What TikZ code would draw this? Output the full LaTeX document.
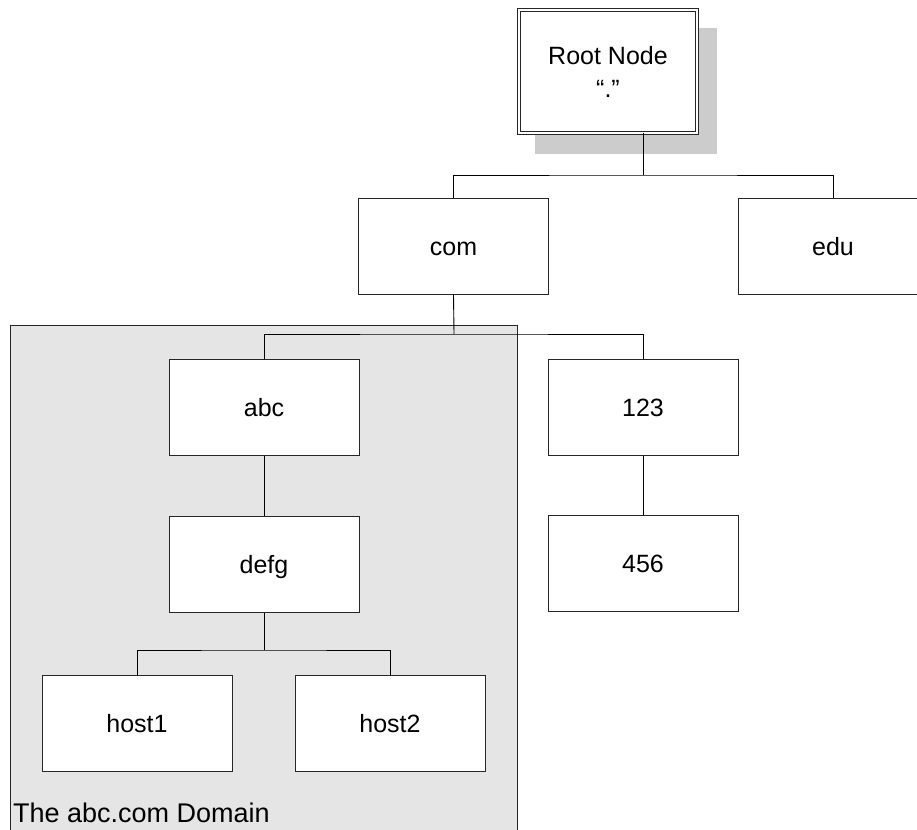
\documentclass[tikz,border=0pt]{standalone}
\usepackage{fontspec}
\setmainfont{Liberation Sans}
\begin{document}
\begin{tikzpicture}[x=1pt,y=-1pt,
  box/.style={draw=black!85, line width=0.9pt, fill=white, minimum width=190pt,
    minimum height=96pt, inner sep=0pt, text height=18pt, text depth=0pt,
    font=\fontsize{25}{33}\selectfont},
  link/.style={draw=black, line width=0.9pt}]
\useasboundingbox (0,0) rectangle (917,829);
\clip (0,0) rectangle (917,829);
% shaded zone of the abc.com domain
\path[fill=black!10, draw=black!85, line width=0.9pt] (10,325) rectangle (517,870);
\node[anchor=base west, font=\fontsize{27}{32}\selectfont, inner sep=0pt] (domlabel) at (13,822) {The abc.com Domain};
% drop shadow behind the root
\fill[black!20] (535,28) rectangle (717,154);
\node[box, text height=, text depth=, double, double distance=2.6pt, minimum width=178pt,
  minimum height=123pt, align=center] (root) at (608,71.5) {Root Node\\“.”};
% second level
\node[box] (com) at (453.5,246) {com};
\node[box] (edu) at (833,246) {edu};
% third level
\node[box] (abc) at (264,407.5) {abc};
\node[box] (n123) at (643,407.5) {123};
% fourth level
\node[box] (defg) at (264,564.5) {defg};
\node[box] (n456) at (643,563) {456};
% hosts
\node[box] (host1) at (137,723.5) {host1};
\node[box] (host2) at (390,723.5) {host2};
% tree connectors
\coordinate (j1) at (643,175);
\coordinate (j2) at (454,334);
\coordinate (j3) at (264,650);
\draw[link] (j1 |- root.south) -- (j1);
\draw[link] (com.north) |- (j1) -| (edu.north);
\draw[link] (com.south) -- (j2);
\draw[link] (abc.north) |- (j2) -| (n123.north);
\draw[link] (abc.south) -- (defg.north);
\draw[link] (n123.south) -- (n456.north);
\draw[link] (defg.south) -- (j3);
\draw[link] (host1.north) |- (j3) -| (host2.north);
\end{tikzpicture}
\end{document}
